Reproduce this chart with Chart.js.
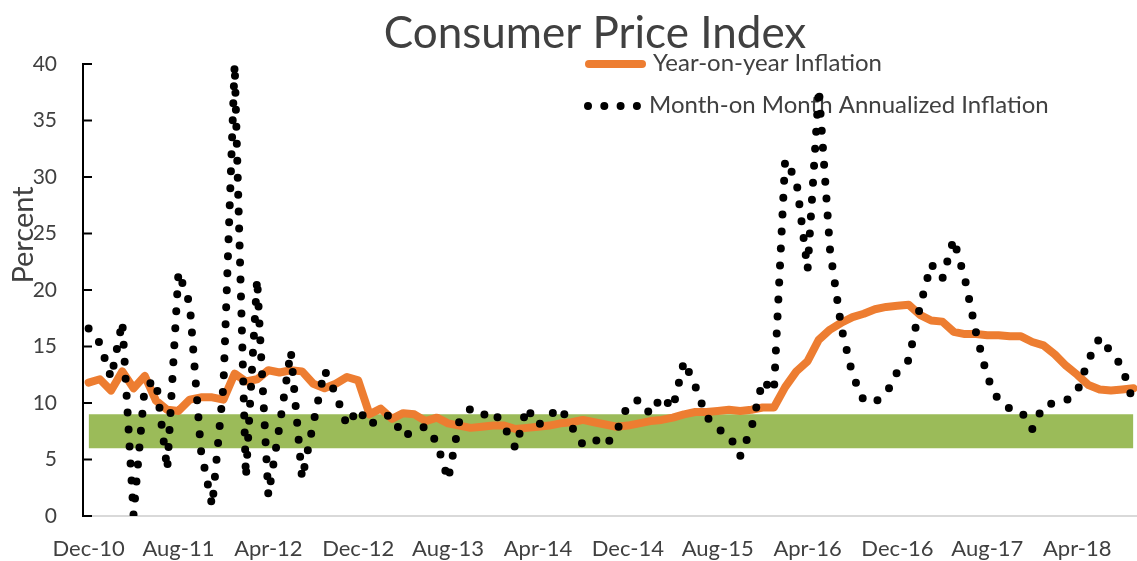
<!DOCTYPE html>
<html lang="en">
<head>
  <meta charset="UTF-8">
  <title>Consumer Price Index</title>
  <script src="https://cdn.jsdelivr.net/npm/chart.js"></script>
  <style>
    body {
      margin: 0;
      background: #fff;
      overflow: hidden;
    }

    .wrap {
      width: 1160px;
      height: 561px;
    }
  </style>
</head>
<body>
  <div class="wrap"><canvas id="cpiChart"></canvas></div>
  <script>
    // monthly categories, Dec-10 to Sep-18
    const monthNames = ['Jan', 'Feb', 'Mar', 'Apr', 'May', 'Jun', 'Jul', 'Aug', 'Sep', 'Oct', 'Nov', 'Dec'];
    const categories = ['Dec-10'];
    for (let y = 11; y <= 18; y++) {
      monthNames.forEach(m => categories.push(m + '-' + y));
    }
    categories.length = 94;

    const tickLabels = ['Dec-10', 'Aug-11', 'Apr-12', 'Dec-12', 'Aug-13', 'Apr-14',
      'Dec-14', 'Aug-15', 'Apr-16', 'Dec-16', 'Aug-17', 'Apr-18'];

    const yoyInflation = [
      11.8,
      12.1, 11.1, 12.8, 11.3, 12.4, 10.2, 9.4, 9.3, 10.3, 10.5, 10.5, 10.3,
      12.6, 11.9, 12.1, 12.9, 12.7, 12.9, 12.8, 11.7, 11.3, 11.7, 12.3, 12.0,
      9.0, 9.5, 8.6, 9.1, 9.0, 8.4, 8.7, 8.2, 8.0, 7.8, 7.9, 8.0,
      8.0, 7.7, 7.8, 7.9, 8.0, 8.2, 8.3, 8.5, 8.3, 8.1, 7.9, 8.0,
      8.2, 8.4, 8.5, 8.7, 9.0, 9.2, 9.2, 9.3, 9.4, 9.3, 9.4, 9.6,
      9.6, 11.4, 12.8, 13.7, 15.6, 16.5, 17.1, 17.6, 17.9, 18.3, 18.5, 18.6,
      18.7, 17.8, 17.3, 17.2, 16.3, 16.1, 16.1, 16.0, 16.0, 15.9, 15.9, 15.4,
      15.1, 14.3, 13.3, 12.5, 11.6, 11.2, 11.1, 11.2, 11.3
    ];

    const momAnnualized = [
      16.6,
      15.3, 12.2, 17.2, 0.1, 11.5, 12.0, 4.1, 21.6, 18.8, 5.8, 0.9, 11.5,
      40.0, 3.4, 21.0, 1.8, 8.0, 14.6, 3.3, 8.2, 12.9, 10.8, 8.0, 9.5,
      8.0, 8.8, 8.9, 7.0, 7.6, 7.9, 6.5, 3.2, 8.4, 9.5, 8.9, 9.3,
      7.9, 6.0, 9.6, 8.0, 8.9, 9.6, 7.9, 6.3, 6.8, 6.2, 7.5, 9.8,
      10.3, 9.0, 10.6, 9.5, 13.7, 11.5, 8.8, 7.7, 7.2, 5.3, 7.8, 12.0,
      11.0, 31.5, 29.7, 21.8, 37.8, 23.5, 16.7, 12.5, 10.2, 10.1, 10.8, 12.8,
      13.8, 18.5, 22.3, 21.0, 24.5, 21.0, 16.2, 12.3, 10.2, 9.5, 9.3, 7.7,
      9.8, 10.0, 10.2, 11.0, 13.8, 15.8, 14.5, 13.2, 10.0
    ];

    // inflation target band, lower and upper edge
    const targetBand = [6, 9];

    const textColor = '#404040';

    const decorPlugin = {
      id: 'decor',
      beforeDatasetsDraw(chart) {
        const ctx = chart.ctx;
        ctx.save();
        // legend
        ctx.strokeStyle = '#ED7D31';
        ctx.lineWidth = 8;
        ctx.lineCap = 'round';
        ctx.beginPath();
        ctx.moveTo(589, 64);
        ctx.lineTo(642, 64);
        ctx.stroke();

        ctx.strokeStyle = '#000';
        ctx.lineWidth = 8;
        ctx.setLineDash([0, 16.3]);
        ctx.beginPath();
        ctx.moveTo(588, 106);
        ctx.lineTo(640, 106);
        ctx.stroke();
        ctx.setLineDash([]);

        ctx.fillStyle = textColor;
        ctx.textAlign = 'left';
        ctx.textBaseline = 'alphabetic';
        ctx.font = '24px Lato';
        ctx.fillText('Year-on-year Inflation', 653, 71);
        ctx.fillText('Month-on Month Annualized Inflation', 649, 113);
        ctx.restore();
      },
      afterDraw(chart) {
        const ctx = chart.ctx;
        const yScale = chart.scales.y;
        const left = chart.chartArea.left;
        ctx.save();
        // inward tick marks on the value axis
        ctx.strokeStyle = '#000';
        ctx.lineWidth = 2;
        yScale.ticks.forEach(t => {
          const py = yScale.getPixelForValue(t.value);
          ctx.beginPath();
          ctx.moveTo(left, py);
          ctx.lineTo(left + 9, py);
          ctx.stroke();
        });

        ctx.fillStyle = textColor;
        ctx.textAlign = 'center';
        ctx.textBaseline = 'alphabetic';
        ctx.font = '44px Lato';
        ctx.fillText('Consumer Price Index', 595, 48);

        ctx.translate(33, 235);
        ctx.rotate(-Math.PI / 2);
        ctx.font = '29px Lato';
        ctx.fillText('Percent', 0, 0);
        ctx.restore();
      }
    };

    new Chart(document.getElementById('cpiChart'), {
      type: 'line',
      data: {
        labels: categories,
        datasets: [
          {
            label: 'Month-on Month Annualized Inflation',
            data: momAnnualized,
            borderColor: '#000',
            borderWidth: 8,
            borderDash: [0, 17],
            borderCapStyle: 'round',
            pointRadius: 0,
            fill: false,
            order: 0
          },
          {
            label: 'Year-on-year Inflation',
            data: yoyInflation,
            borderColor: '#ED7D31',
            borderWidth: 8,
            borderJoinStyle: 'round',
            borderCapStyle: 'round',
            pointRadius: 0,
            fill: false,
            order: 1
          },
          {
            label: 'Target',
            data: categories.map(() => targetBand[1]),
            borderColor: 'rgba(0,0,0,0)',
            borderWidth: 0,
            backgroundColor: '#9BBB59',
            pointRadius: 0,
            fill: { value: targetBand[0] },
            order: 2
          }
        ]
      },
      options: {
        responsive: true,
        maintainAspectRatio: false,
        animation: false,
        layout: {
          padding: { left: 0, top: 64, right: 21, bottom: 0 }
        },
        plugins: {
          legend: { display: false },
          tooltip: { enabled: false },
          title: { display: false }
        },
        scales: {
          x: {
            offset: true,
            grid: { display: false, drawTicks: false },
            border: { display: true, color: '#d9d9d9', width: 2 },
            ticks: {
              autoSkip: false,
              maxRotation: 0,
              minRotation: 0,
              padding: 20,
              color: textColor,
              font: { family: 'Lato', size: 22 },
              callback: (val, idx) => tickLabels.includes(categories[idx]) ? categories[idx] : ''
            },
            afterFit(scale) {
              scale.height = 45;
            }
          },
          y: {
            min: 0,
            max: 40,
            grid: { display: false, drawTicks: false },
            border: { display: true, color: '#000', width: 2 },
            ticks: {
              stepSize: 5,
              padding: 26,
              color: textColor,
              font: { family: 'Lato', size: 21 }
            },
            afterFit(scale) {
              scale.width = 83;
            }
          }
        }
      },
      plugins: [decorPlugin]
    });
  </script>
</body>
</html>
